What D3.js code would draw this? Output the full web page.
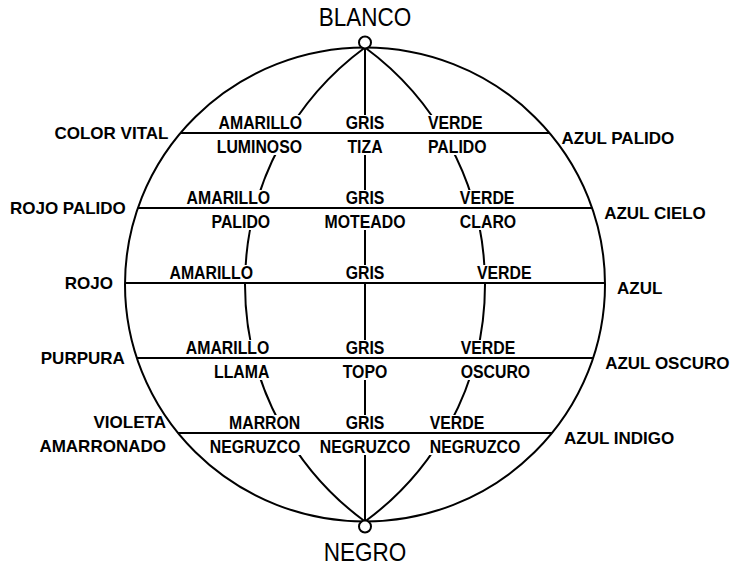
<!DOCTYPE html>
<html>
<head>
<meta charset="utf-8">
<script src="https://cdn.jsdelivr.net/npm/d3@7"></script>
<style>
body{margin:0;background:#fff;}
svg{display:block;}
text{font-family:"Liberation Sans", Arial, sans-serif;fill:#000;}
</style>
</head>
<body>
<svg id="chart" width="733" height="566"></svg>
<script>
//rows of the sphere, light at the top, dark at the bottom
var rows = [1, 2, 3, 4, 5];
var leftNames = [['COLOR VITAL'], ['ROJO PALIDO'], ['ROJO'], ['PURPURA'], ['VIOLETA', 'AMARRONADO']];
var rightNames = ['AZUL PALIDO', 'AZUL CIELO', 'AZUL', 'AZUL OSCURO', 'AZUL INDIGO'];
//inner names: word over the row line, word under it
var warmTop = ['AMARILLO', 'AMARILLO', 'AMARILLO', 'AMARILLO', 'MARRON'];
var warmBottom = ['LUMINOSO', 'PALIDO', '', 'LLAMA', 'NEGRUZCO'];
var greyTop = ['GRIS', 'GRIS', 'GRIS', 'GRIS', 'GRIS'];
var greyBottom = ['TIZA', 'MOTEADO', '', 'TOPO', 'NEGRUZCO'];
var coolTop = ['VERDE', 'VERDE', 'VERDE', 'VERDE', 'VERDE'];
var coolBottom = ['PALIDO', 'CLARO', '', 'OSCURO', 'NEGRUZCO'];
var meridians = [-1, 0, 1]; //warm, grey, cool
var poles = ['BLANCO', 'NEGRO'];

var svg = d3.select('#chart');
var cx = 365, cy = 284.5, rx = 240, ry = 237;

var y = d3.scaleLinear().domain([1, 5]).range([133, 433]);
var bulge = d3.scaleLinear().domain([-1, 1]).range([-120, 120]); //meridian offset at the equator

drawOutline();
drawMeridians();
drawInnerLabels();
drawRows();
drawPoles();
drawOuterLabels();

//x of the outer rim at height yy, side -1 left / 1 right
function rimX(yy, side){
	var dy = yy - cy;
	return cx + side * rx * Math.sqrt(1 - dy * dy / (ry * ry));
}
//meridians are circle arcs through both poles
function arcRadius(k){
	var s = Math.abs(bulge(k));
	return (ry * ry + s * s) / (2 * s);
}
function meridianX(k, yy){
	if(k === 0) return cx;
	var s = Math.abs(bulge(k));
	var r = arcRadius(k);
	var dir = Math.sign(k);
	var c = cx - dir * (r - s);
	var dy = yy - cy;
	return c + dir * Math.sqrt(r * r - dy * dy);
}

function drawOutline(){
	svg.append('ellipse')
		.attr('cx', cx).attr('cy', cy)
		.attr('rx', rx).attr('ry', ry)
		.attr('fill', 'none')
		.attr('stroke', '#000')
		.attr('stroke-width', 2);
}

function drawMeridians(){
	svg.append('g').selectAll('path')
		.data(meridians)
		.join('path')
		.attr('d', function(k){
			if(k === 0) return 'M' + cx + ',' + (cy - ry) + 'L' + cx + ',' + (cy + ry);
			var r = arcRadius(k);
			return 'M' + cx + ',' + (cy - ry) + 'A' + r + ',' + r + ' 0 0 ' + (k > 0 ? 1 : 0) + ' ' + cx + ',' + (cy + ry);
		})
		.attr('fill', 'none')
		.attr('stroke', '#000')
		.attr('stroke-width', 2);
}

function drawRows(){
	svg.append('g').selectAll('line')
		.data(rows)
		.join('line')
		.attr('x1', function(d){ return rimX(y(d), -1); })
		.attr('x2', function(d){ return rimX(y(d), 1); })
		.attr('y1', function(d){ return y(d); })
		.attr('y2', function(d){ return y(d); })
		.attr('stroke', '#000')
		.attr('stroke-width', 2);
}

//white box behind each inner word hides the meridian under it,
//stretched down (or up) to the row line
function innerLabel(g, text, x, yy, anchor, below){
	if(!text) return;
	var t = g.append('g').attr('transform', 'translate(' + x + ',' + yy + ') scale(0.88,1)');
	var box = t.append('rect').attr('fill', '#fff');
	var txt = t.append('text')
		.attr('text-anchor', anchor)
		.style('font-size', '18px')
		.style('font-weight', 'bold')
		.text(text);
	var b = txt.node().getBBox();
	box.attr('x', b.x - 1).attr('width', b.width + 2);
	if(below) box.attr('y', -21).attr('height', 23);
	else box.attr('y', -14).attr('height', 19);
}

function drawInnerLabels(){
	var g = svg.append('g');
	rows.forEach(function(d, i){
		var ly = y(d);
		var pad = warmBottom[i] ? 15 : 8;
		var xl = meridianX(-1, ly) + pad;
		var xr = meridianX(1, ly) - pad;
		innerLabel(g, warmTop[i], xl, ly - 4, 'end', false);
		innerLabel(g, warmBottom[i], xl, ly + 20, 'end', true);
		innerLabel(g, greyTop[i], cx, ly - 4, 'middle', false);
		innerLabel(g, greyBottom[i], cx, ly + 20, 'middle', true);
		innerLabel(g, coolTop[i], xr, ly - 4, 'start', false);
		innerLabel(g, coolBottom[i], xr, ly + 20, 'start', true);
	});
}

function drawPoles(){
	var top = cy - ry, bottom = cy + ry;
	svg.append('g').selectAll('circle')
		.data([top - 5, bottom + 5])
		.join('circle')
		.attr('cx', cx)
		.attr('cy', function(d){ return d; })
		.attr('r', 6)
		.attr('fill', '#fff')
		.attr('stroke', '#000')
		.attr('stroke-width', 2);

	svg.append('g').selectAll('text')
		.data(poles)
		.join('text')
		.attr('transform', function(d, i){
			var ty = i === 0 ? top - 21.5 : bottom + 39.5;
			return 'translate(' + cx + ',' + ty + ') scale(0.9,1)';
		})
		.attr('text-anchor', 'middle')
		.style('font-size', '25px')
		.text(function(d){ return d; });
}

function drawOuterLabels(){
	var g = svg.append('g').style('font-size', '17px').style('font-weight', 'bold');
	rows.forEach(function(d, i){
		var ly = y(d);
		var names = leftNames[i];
		names.forEach(function(n, j){
			var by = names.length === 1 ? ly + 6 : (j === 0 ? ly - 5 : ly + 19);
			g.append('text')
				.attr('x', rimX(ly, -1) - 12)
				.attr('y', by)
				.attr('text-anchor', 'end')
				.text(n);
		});
		g.append('text')
			.attr('x', rimX(ly, 1) + 12)
			.attr('y', ly + 11)
			.attr('text-anchor', 'start')
			.text(rightNames[i]);
	});
}
</script>
</body>
</html>
